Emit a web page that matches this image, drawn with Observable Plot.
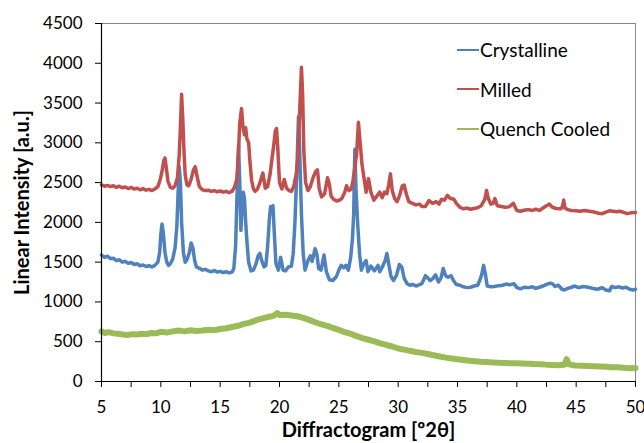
<!DOCTYPE html>
<html>
<head>
<meta charset="utf-8">
<script src="https://cdn.jsdelivr.net/npm/d3@7"></script>
<script src="https://cdn.jsdelivr.net/npm/@observablehq/plot@0.6"></script>
<style>
  html, body { margin: 0; padding: 0; background: #fff; }
  #wrap { position: relative; width: 644px; height: 443px; font-family: Lato, sans-serif; }
  #legend { position: absolute; left: 457px; top: 30px; }
  .item { display: flex; align-items: center; height: 39.5px; font-size: 19px; color: #000; }
  .swatch { width: 22px; height: 2px; margin-right: 1px; }
</style>
</head>
<body>
<div id="wrap"><div id="legend"></div></div>
<script>
// Series names and colours
const seriesNames = ["Crystalline", "Milled", "Quench Cooled"];
const seriesColors = ["#4F81BD", "#C0504D", "#9BBB59"];

// x-axis ticks (°2θ) and y-axis ticks (a.u.)
const xTicks = [5, 7.5, 10, 12.5, 15, 17.5, 20, 22.5, 25, 27.5, 30, 32.5, 35, 37.5, 40, 42.5, 45, 47.5, 50];
const yTicks = [0, 500, 1000, 1500, 2000, 2500, 3000, 3500, 4000, 4500];

// Crystalline: [2θ, intensity]
const crystalline = [
[5.0,1590],[5.25,1560],[5.5,1575],[5.75,1545],[6.0,1550],[6.25,1520],[6.5,1530],[6.75,1500],[7.0,1510],[7.25,1485],
[7.5,1495],[7.75,1470],[8.0,1480],[8.25,1455],[8.5,1465],[8.75,1445],[9.0,1455],[9.25,1440],[9.5,1460],[9.75,1500],
[9.9,1620],[10.0,1850],[10.1,1980],[10.2,1880],[10.35,1620],[10.5,1500],[10.65,1460],[10.8,1480],[11.0,1540],[11.2,1680],
[11.35,1950],[11.45,2350],[11.55,2700],[11.65,2500],[11.75,2000],[11.9,1620],[12.05,1500],[12.2,1530],[12.4,1620],[12.55,1740],
[12.7,1680],[12.85,1520],[13.0,1440],[13.3,1420],[13.5,1400],[13.75,1410],[14.0,1390],[14.25,1380],[14.5,1395],[14.75,1375],
[15.0,1385],[15.25,1370],[15.5,1380],[15.75,1365],[16.0,1375],[16.15,1420],[16.3,1700],[16.45,2500],[16.55,2970],[16.65,2500],
[16.75,1900],[16.85,2200],[16.95,2380],[17.05,2290],[17.15,2000],[17.25,1770],[17.4,1500],[17.6,1390],[17.8,1400],[18.0,1470],
[18.2,1580],[18.35,1610],[18.5,1520],[18.7,1440],[18.85,1460],[19.0,1700],[19.15,2050],[19.25,2200],[19.35,2150],[19.45,2210],
[19.55,1900],[19.7,1480],[19.9,1400],[20.1,1560],[20.3,1400],[20.5,1390],[20.75,1440],[21.0,1450],[21.15,1600],[21.3,2000],
[21.45,2600],[21.6,3330],[21.7,2900],[21.85,2100],[22.0,1600],[22.15,1400],[22.4,1520],[22.6,1580],[22.75,1510],[23.0,1670],
[23.15,1600],[23.3,1420],[23.5,1400],[23.75,1590],[23.95,1380],[24.2,1280],[24.5,1270],[24.8,1320],[25.0,1400],[25.2,1460],
[25.4,1430],[25.6,1460],[25.8,1400],[26.0,1560],[26.15,1800],[26.25,2100],[26.35,2920],[26.45,2400],[26.6,1950],[26.75,1600],
[26.9,1400],[27.1,1480],[27.3,1520],[27.45,1380],[27.7,1450],[28.0,1390],[28.3,1460],[28.45,1380],[28.7,1450],[28.9,1520],
[29.05,1610],[29.2,1480],[29.4,1320],[29.6,1270],[29.85,1330],[30.1,1470],[30.3,1440],[30.5,1300],[30.75,1230],[31.0,1210],
[31.25,1220],[31.5,1200],[31.75,1215],[32.0,1230],[32.3,1330],[32.5,1300],[32.7,1270],[32.9,1290],[33.15,1340],[33.4,1250],
[33.6,1300],[33.8,1420],[34.0,1330],[34.2,1310],[34.45,1330],[34.7,1260],[34.9,1220],[35.2,1210],[35.5,1190],[35.8,1180],
[36.1,1185],[36.4,1200],[36.7,1210],[36.9,1280],[37.05,1350],[37.2,1460],[37.35,1350],[37.5,1200],[37.8,1190],[38.1,1195],
[38.5,1205],[38.8,1210],[39.1,1225],[39.4,1215],[39.75,1230],[40.0,1180],[40.3,1165],[40.6,1185],[41.0,1180],[41.3,1190],
[41.6,1170],[41.9,1185],[42.2,1200],[42.5,1220],[42.8,1235],[43.0,1230],[43.2,1195],[43.5,1210],[43.8,1160],[44.0,1150],
[44.3,1170],[44.6,1185],[44.9,1200],[45.2,1180],[45.6,1195],[46.0,1185],[46.4,1170],[46.8,1160],[47.2,1180],[47.5,1150],
[47.8,1140],[48.0,1195],[48.3,1180],[48.6,1190],[48.9,1175],[49.2,1185],[49.5,1160],[49.8,1150],[50.0,1160]
];

// Milled: [2θ, intensity]
const milled = [
[5.0,2470],[5.25,2455],[5.5,2465],[5.75,2450],[6.0,2460],[6.25,2440],[6.5,2455],[6.75,2435],[7.0,2445],[7.25,2425],
[7.5,2440],[7.75,2420],[8.0,2430],[8.25,2410],[8.5,2425],[8.75,2405],[9.0,2415],[9.25,2400],[9.5,2420],[9.75,2450],
[9.95,2540],[10.1,2640],[10.25,2780],[10.35,2810],[10.45,2700],[10.6,2520],[10.8,2440],[11.0,2430],[11.2,2460],[11.4,2560],
[11.55,2850],[11.65,3200],[11.75,3610],[11.85,3300],[11.95,2900],[12.05,2600],[12.2,2470],[12.35,2460],[12.55,2540],[12.75,2660],
[12.9,2700],[13.05,2580],[13.25,2450],[13.5,2410],[13.75,2400],[14.0,2405],[14.25,2390],[14.5,2400],[14.75,2385],[15.0,2395],
[15.25,2380],[15.5,2390],[15.75,2375],[16.0,2390],[16.2,2440],[16.4,2540],[16.55,2900],[16.65,3250],[16.8,3430],[16.92,3200],
[17.05,3100],[17.15,3190],[17.25,3050],[17.4,3000],[17.5,2780],[17.65,2530],[17.8,2420],[17.95,2390],[18.15,2420],[18.35,2500],
[18.6,2620],[18.8,2430],[19.0,2450],[19.2,2600],[19.35,2780],[19.5,2950],[19.65,3150],[19.75,3180],[19.85,2950],[20.0,2500],
[20.2,2420],[20.4,2540],[20.6,2430],[20.8,2400],[21.0,2390],[21.2,2450],[21.4,2600],[21.55,2800],[21.7,3400],[21.85,3950],
[21.95,3600],[22.05,2900],[22.2,2500],[22.4,2400],[22.6,2450],[22.85,2570],[23.05,2640],[23.2,2660],[23.35,2420],[23.55,2320],
[23.8,2360],[24.05,2560],[24.2,2480],[24.35,2330],[24.55,2290],[24.8,2270],[25.0,2275],[25.25,2300],[25.5,2380],[25.65,2460],
[25.85,2400],[26.05,2420],[26.2,2530],[26.35,2700],[26.5,2860],[26.65,3260],[26.8,3000],[26.95,2730],[27.1,2580],[27.3,2380],
[27.5,2550],[27.7,2380],[27.95,2280],[28.2,2330],[28.45,2380],[28.65,2310],[28.85,2380],[29.05,2360],[29.2,2470],[29.35,2610],
[29.5,2400],[29.7,2300],[29.9,2260],[30.1,2330],[30.35,2460],[30.5,2470],[30.7,2350],[30.9,2260],[31.2,2240],[31.5,2220],
[31.8,2230],[32.0,2200],[32.3,2200],[32.6,2275],[32.9,2240],[33.2,2260],[33.45,2230],[33.65,2290],[33.9,2280],[34.15,2340],
[34.4,2300],[34.7,2290],[34.9,2240],[35.2,2190],[35.5,2170],[35.8,2180],[36.1,2165],[36.4,2175],[36.7,2185],[37.0,2210],
[37.3,2290],[37.45,2400],[37.6,2300],[37.8,2230],[38.0,2240],[38.15,2300],[38.35,2210],[38.7,2200],[39.0,2190],[39.35,2195],
[39.7,2240],[40.0,2150],[40.3,2140],[40.7,2155],[41.0,2160],[41.3,2150],[41.6,2165],[41.9,2150],[42.2,2180],[42.5,2210],
[42.75,2230],[43.0,2190],[43.3,2175],[43.7,2170],[43.85,2200],[43.95,2280],[44.05,2180],[44.3,2160],[44.6,2150],[45.0,2145],
[45.3,2140],[45.7,2150],[46.1,2140],[46.5,2130],[46.9,2115],[47.2,2110],[47.5,2130],[47.8,2145],[48.1,2140],[48.4,2135],
[48.7,2140],[49.0,2125],[49.3,2110],[49.6,2120],[50.0,2125]
];

// Quench Cooled: [2θ, intensity]
const quenchCooled = [
[5.0,630],[5.3,610],[5.6,620],[6.0,605],[6.4,600],[6.8,590],[7.2,585],[7.6,595],[8.0,590],[8.4,600],
[8.8,595],[9.2,610],[9.6,605],[10.0,625],[10.5,615],[11.0,630],[11.5,640],[12.0,630],[12.5,645],[13.0,635],
[13.5,640],[14.0,650],[14.5,645],[15.0,660],[15.5,670],[16.0,685],[16.5,700],[17.0,725],[17.5,740],[18.0,770],
[18.5,790],[19.0,810],[19.5,825],[19.8,860],[20.0,835],[20.5,840],[21.0,830],[21.5,820],[22.0,800],[22.5,775],
[23.0,745],[23.5,720],[24.0,700],[24.5,675],[25.0,650],[25.5,620],[26.0,600],[26.5,570],[27.0,545],[27.5,525],
[28.0,505],[28.5,480],[29.0,460],[29.5,440],[30.0,415],[30.5,400],[31.0,385],[31.5,370],[32.0,360],[32.5,345],
[33.0,330],[33.5,315],[34.0,300],[34.5,290],[35.0,280],[35.5,270],[36.0,260],[36.5,255],[37.0,248],[37.5,244],
[38.0,240],[38.5,235],[39.0,232],[39.5,230],[40.0,228],[40.5,226],[41.0,224],[41.5,220],[42.0,218],[42.5,212],
[43.0,208],[43.5,205],[44.0,210],[44.2,280],[44.35,220],[44.7,205],[45.0,200],[45.5,198],[46.0,195],[46.5,192],
[47.0,190],[47.5,185],[48.0,180],[48.5,178],[49.0,172],[49.5,168],[50.0,170]
];

const seriesData = [crystalline, milled, quenchCooled];
const rows = seriesData.flatMap((arr, i) => arr.map(([x, y]) => ({x, y, series: seriesNames[i]})));

const chart = Plot.plot({
  width: 644,
  height: 443,
  marginLeft: 101,
  marginRight: 9,
  marginTop: 23,
  marginBottom: 62,
  style: {fontFamily: "Lato, sans-serif", fontSize: "17px", color: "#000", background: "#fff"},
  x: {domain: [5, 50]},
  y: {domain: [0, 4500]},
  color: {domain: seriesNames, range: seriesColors},
  marks: [
    Plot.frame({stroke: "#868686", strokeWidth: 1}),
    Plot.axisX({ticks: xTicks, tickSize: 6, tickPadding: 13, fontSize: 17,
      tickFormat: d => (d % 5 === 0 ? String(d) : ""),
      label: "Diffractogram [º2θ]", labelAnchor: "center", labelArrow: false, labelOffset: 55}),
    Plot.axisY({ticks: yTicks, tickSize: 6, tickPadding: 13, fontSize: 17, tickFormat: d => String(d),
      label: "Linear Intensity [a.u.]", labelAnchor: "center", labelArrow: false, labelOffset: 87}),
    Plot.line(rows.filter(d => d.series === "Quench Cooled"), {x: "x", y: "y", stroke: "series", strokeWidth: 6, strokeLinejoin: "round"}),
    Plot.line(rows.filter(d => d.series === "Crystalline"), {x: "x", y: "y", stroke: "series", strokeWidth: 3.5, strokeLinejoin: "round"}),
    Plot.line(rows.filter(d => d.series === "Milled"), {x: "x", y: "y", stroke: "series", strokeWidth: 3.5, strokeLinejoin: "round"}),
    Plot.ruleX([5], {stroke: "#000", strokeWidth: 1.2}),
    Plot.ruleY([0], {stroke: "#000", strokeWidth: 1.2})
  ]
});

// make axis titles bold and 20px
d3.select(chart).selectAll('g[aria-label="x-axis label"] text, g[aria-label="y-axis label"] text')
  .style("font-size", "20px").style("font-weight", "bold");
d3.select(chart).selectAll('g[aria-label="x-axis tick"] path, g[aria-label="y-axis tick"] path').attr("stroke", "#000");

document.getElementById("wrap").prepend(chart);

const legend = d3.select("#legend");
seriesNames.forEach((name, i) => {
  const item = legend.append("div").attr("class", "item");
  item.append("div").attr("class", "swatch").style("background", seriesColors[i]);
  item.append("span").text(name);
});
</script>
</body>
</html>
